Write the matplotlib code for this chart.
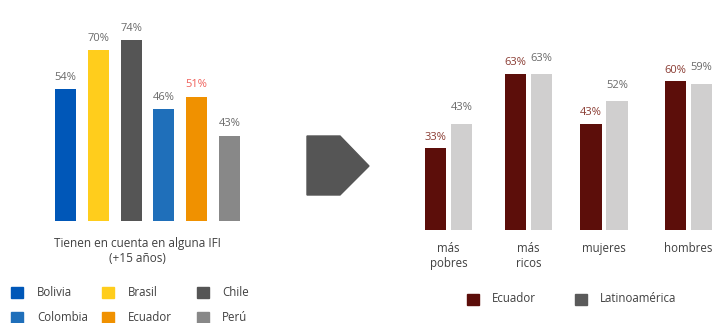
import matplotlib
matplotlib.use("Agg")
import matplotlib.pyplot as plt
from matplotlib.patches import Rectangle, Polygon

plt.rcParams['font.family'] = ['Open Sans', 'DejaVu Sans']

# ---- data ----
countries = ["Bolivia", "Brasil", "Chile", "Colombia", "Ecuador", "Perú"]
country_values = [54, 70, 74, 46, 51, 35]          # bar heights as drawn
country_labels = ["54%", "70%", "74%", "46%", "51%", "43%"]  # labels as printed
country_colors = ["#0057b8", "#ffcd1c", "#555555", "#1f6fba", "#f09100", "#888888"]

groups = ["más\npobres", "más\nricos", "mujeres", "hombres"]
ecuador = [33, 63, 43, 60]
latam = [43, 63, 52, 59]
series_names = ["Ecuador", "Latinoamérica"]

W, H = 716, 323
fig = plt.figure(figsize=(W / 100, H / 100), dpi=100)

def fx(px):
    return px / W

def fy(py):
    return 1 - py / H

TXT = "#404040"
LBL = "#6a6a6a"

# ---- left chart ----
ppu_l = 2.44
top_l = 221 - 80 * ppu_l
axL = fig.add_axes([fx(49.1), fy(221), fx(245.9 - 49.1), (221 - top_l) / H])
xs = list(range(len(countries)))
axL.bar(xs, country_values, width=0.64, color=country_colors)
for x, v, lab, c in zip(xs, country_values, country_labels, countries):
    col = "#f0605a" if c == "Ecuador" else LBL
    axL.annotate(lab, (x, v), xytext=(0, 4.5), textcoords="offset points",
                 ha="center", va="bottom", fontsize=8, color=col)
axL.set_xlim(-0.5, 5.5)
axL.set_ylim(0, 80)
axL.axis("off")

fig.text(fx(137.5), fy(251), "Tienen en cuenta en alguna IFI\n(+15 años)",
         ha="center", va="center", fontsize=8.5, color=TXT, linespacing=1.2)

# left legend
leg_cols = [(11, 37), (102, 128), (197, 222)]
leg_rows = [292.5, 317.5]
for i, (name, col) in enumerate(zip(countries, country_colors)):
    r, c = divmod(i, 3)
    sx, tx = leg_cols[c]
    cy = leg_rows[r]
    fig.patches.append(Rectangle((fx(sx), fy(cy + 5.5)), fx(12), 11 / H,
                                 transform=fig.transFigure, color=col))
    fig.text(fx(tx), fy(cy), name, ha="left", va="center", fontsize=8.3, color=TXT)

# ---- arrow ----
arrow_pts = [(307, 136), (340, 136), (369, 166), (340, 195), (307, 195)]
fig.patches.append(Polygon([(fx(a), fy(b)) for a, b in arrow_pts], closed=True,
                           transform=fig.transFigure, color="#555555"))

# ---- right chart ----
ppu_r = 2.476
top_r = 230 - 80 * ppu_r
unit = 80.0
x0 = 448.5
axR = fig.add_axes([fx(400.5), fy(230), fx(716 - 400.5), (230 - top_r) / H])
gpos = [0, 1, 1.945, 3.0]
bw = 0.27
off = 0.163
ec_x = [g - off for g in gpos]
la_x = [g + off for g in gpos]
axR.bar(ec_x, ecuador, width=bw, color="#5c0e0a")
axR.bar(la_x, latam, width=bw, color="#d0cfcf")
for x, v in zip(ec_x, ecuador):
    axR.annotate(f"{v}%", (x, v), xytext=(0, 4), textcoords="offset points",
                 ha="center", va="bottom", fontsize=8, color="#8a3c33")
for x, v in zip(la_x, latam):
    axR.annotate(f"{v}%", (x, v), xytext=(0, 7.5), textcoords="offset points",
                 ha="center", va="bottom", fontsize=8, color=LBL)
axR.set_xlim(-0.6, (716 - x0) / unit)
axR.set_ylim(0, 80)
axR.axis("off")
for g, name in zip(gpos, groups):
    axR.annotate(name, (g, 0), xytext=(0, -8.5), textcoords="offset points",
                 ha="center", va="top", fontsize=8.3, color=TXT, linespacing=1.2,
                 annotation_clip=False)

# right legend
r_leg = [(467, 492, "#5c0e0a"), (575, 600, "#5a5a5a")]
for (sx, tx, col), name in zip(r_leg, series_names):
    fig.patches.append(Rectangle((fx(sx), fy(304.5)), fx(12), 11 / H,
                                 transform=fig.transFigure, color=col))
    fig.text(fx(tx), fy(299), name, ha="left", va="center", fontsize=8.3, color=TXT)

fig.savefig("out.png", dpi=100)
